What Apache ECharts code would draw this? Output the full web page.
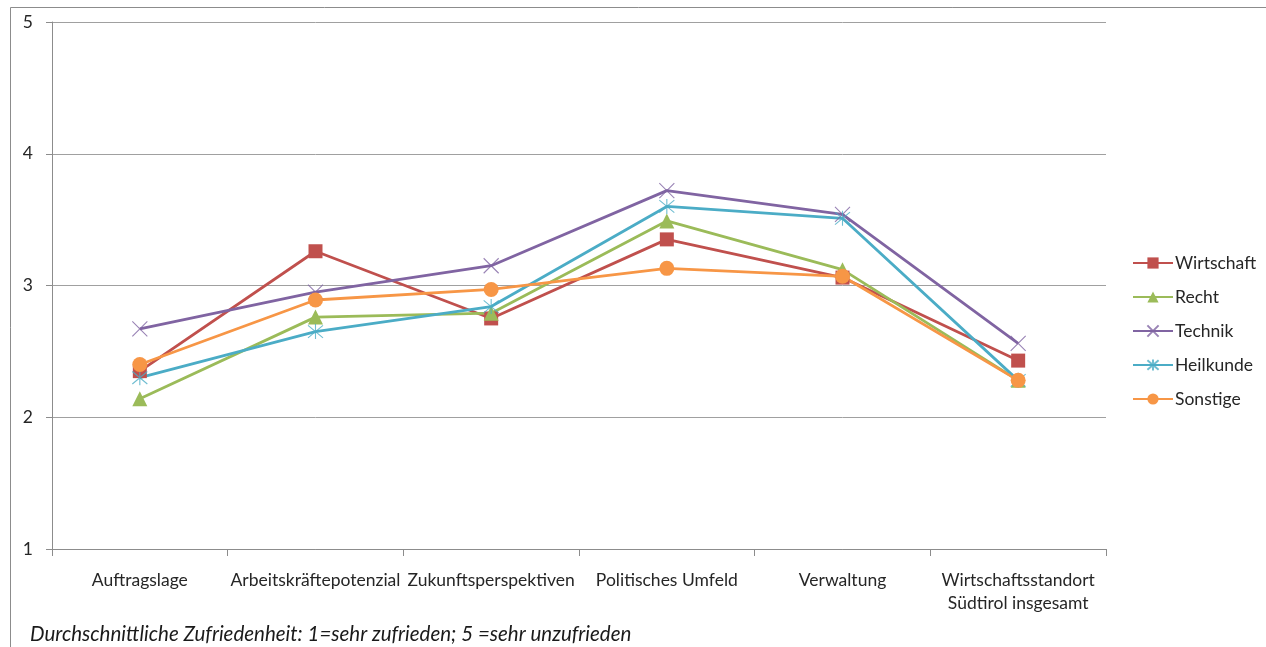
<!DOCTYPE html>
<html>
<head>
<meta charset="utf-8">
<script src="https://cdn.jsdelivr.net/npm/echarts@6/dist/echarts.min.js"></script>
<style>
  html, body { margin: 0; padding: 0; background: #fff; }
  #chart { width: 1266px; height: 647px; }
</style>
</head>
<body>
<div id="chart"></div>
<script>
// Bereiche der Befragung
const categories = [
  'Auftragslage',
  'Arbeitskräftepotenzial',
  'Zukunftsperspektiven',
  'Politisches Umfeld',
  'Verwaltung',
  'Wirtschaftsstandort\nSüdtirol insgesamt'
];

// Durchschnittliche Zufriedenheit je Sektor
const wirtschaft = [2.35, 3.26, 2.75, 3.35, 3.06, 2.43];
const recht      = [2.14, 2.76, 2.79, 3.49, 3.12, 2.28];
const technik    = [2.67, 2.95, 3.15, 3.72, 3.54, 2.56];
const heilkunde  = [2.30, 2.65, 2.84, 3.60, 3.51, 2.28];
const sonstige   = [2.40, 2.89, 2.97, 3.13, 3.07, 2.28];

const yTicks = [1, 2, 3, 4, 5];

const FONT = 'Lato, "Open Sans", sans-serif';
const crossPath = 'path://M0 0L10 10M10 0L0 10';
const starPath = 'path://M0 0L10 10M10 0L0 10M5 -1L5 11';

function lineSeries(name, data, color, symbol, size, hollow) {
  return {
    name: name,
    type: 'line',
    data: data,
    symbol: symbol,
    symbolSize: size,
    showSymbol: true,
    lineStyle: { color: color, width: 2.8 },
    itemStyle: hollow
      ? { color: 'none', borderColor: color, borderWidth: 1.1, opacity: 0.8 }
      : { color: color, borderWidth: 0 },
    emphasis: { disabled: true },
    animation: false
  };
}

const chart = echarts.init(document.getElementById('chart'), null, { renderer: 'canvas' });

chart.setOption({
  backgroundColor: '#fff',
  animation: false,
  grid: { left: 52, right: 160, top: 22, bottom: 98, containLabel: false },
  xAxis: {
    type: 'category',
    data: categories,
    boundaryGap: true,
    axisLine: { show: true, lineStyle: { color: '#8c8c8c', width: 1 } },
    axisTick: { show: true, length: 7, alignWithLabel: false, lineStyle: { color: '#8c8c8c' } },
    axisLabel: {
      interval: 0,
      margin: 20,
      fontFamily: FONT,
      fontSize: 17.5,
      color: '#262626',
      lineHeight: 23
    },
    splitLine: { show: false }
  },
  yAxis: {
    type: 'value',
    min: yTicks[0],
    max: yTicks[yTicks.length - 1],
    interval: 1,
    axisLine: { show: true, lineStyle: { color: '#8c8c8c', width: 1 } },
    axisTick: { show: true, length: 6, lineStyle: { color: '#8c8c8c' } },
    axisLabel: {
      margin: 19,
      fontFamily: FONT,
      fontSize: 17.5,
      color: '#262626'
    },
    splitLine: { show: true, lineStyle: { color: '#a0a0a0', width: 1 } }
  },
  legend: {
    orient: 'vertical',
    left: 1127,
    top: 249,
    itemWidth: 40,
    itemHeight: 14,
    itemGap: 16,
    textStyle: { fontFamily: FONT, fontSize: 17.5, color: '#262626', padding: [0, 0, 0, -3] },
    data: ['Wirtschaft', 'Recht', 'Technik', 'Heilkunde', 'Sonstige']
  },
  graphic: [
    {
      type: 'rect',
      shape: { x: 10.5, y: 7.5, width: 1280, height: 700 },
      style: { fill: 'none', stroke: '#8c8c8c', lineWidth: 1 },
      silent: true,
      z: -1
    },
    {
      type: 'text',
      left: 30,
      top: 624,
      style: {
        text: 'Durchschnittliche Zufriedenheit: 1=sehr zufrieden; 5 =sehr unzufrieden',
        fontFamily: FONT,
        fontStyle: 'italic',
        fontSize: 20.5,
        fill: '#1a1a1a'
      }
    }
  ],
  series: [
    lineSeries('Wirtschaft', wirtschaft, '#C0504D', 'rect', 14, false),
    lineSeries('Recht', recht, '#9BBB59', 'triangle', 15, false),
    lineSeries('Technik', technik, '#8064A2', crossPath, 15, true),
    lineSeries('Heilkunde', heilkunde, '#4BACC6', starPath, 15, true),
    lineSeries('Sonstige', sonstige, '#F79646', 'circle', 15, false)
  ]
});
</script>
</body>
</html>
